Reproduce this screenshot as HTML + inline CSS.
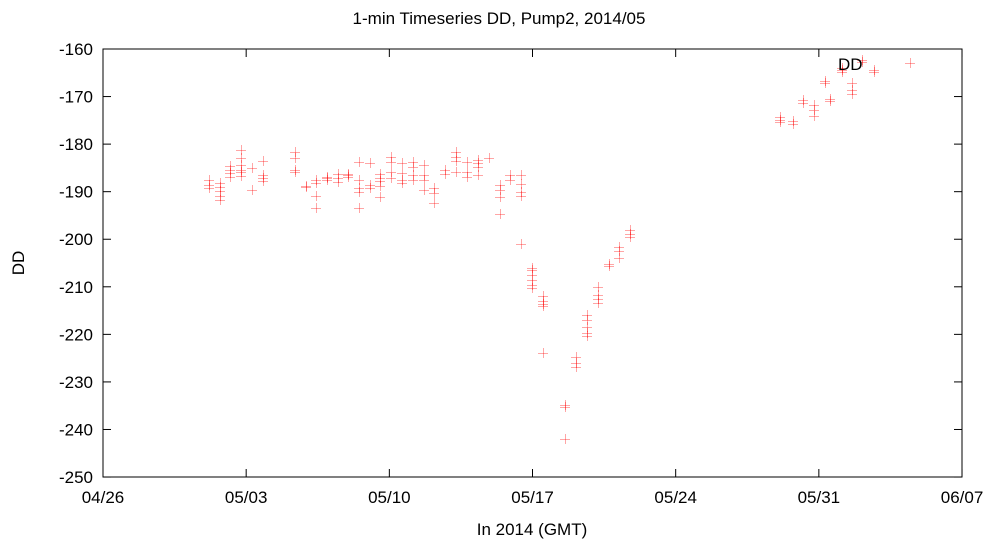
<!DOCTYPE html>
<html><head><meta charset="utf-8"><style>
body{margin:0;background:#fff}
svg text{font-family:"Liberation Sans",sans-serif;font-size:17px;fill:#000}
</style></head><body>
<svg id="s" width="998" height="552" xmlns="http://www.w3.org/2000/svg">
<rect x="103" y="49" width="859" height="428" fill="none" stroke="#000" stroke-width="1"/>
<g id="ax"></g>
<g id="pts" stroke="#ff0000" stroke-opacity="0.35" stroke-width="1"></g>
<text x="499" y="24" text-anchor="middle">1-min Timeseries DD, Pump2, 2014/05</text>
<text x="532" y="535" text-anchor="middle">In 2014 (GMT)</text>
<text x="24" y="263" text-anchor="middle" transform="rotate(-90 24 263)">DD</text>
<text x="838" y="70">DD</text>
</svg>
<script>
var ax=document.getElementById('ax'),h='';
for(var i=0;i<=9;i++){var y=49+i*47.56;h+='<line x1="103" x2="111" y1="'+y+'" y2="'+y+'" stroke="#000"/><line x1="954" x2="962" y1="'+y+'" y2="'+y+'" stroke="#000"/><text x="93" y="'+(y+6)+'" text-anchor="end">'+(-160-10*i)+'</text>';}
var xl=['04/26','05/03','05/10','05/17','05/24','05/31','06/07'];
for(var i=0;i<7;i++){var x=103+i*143.17;h+='<line x1="'+x+'" x2="'+x+'" y1="477" y2="469" stroke="#000"/><line x1="'+x+'" x2="'+x+'" y1="49" y2="57" stroke="#000"/><text x="'+x+'" y="503" text-anchor="middle">'+xl[i]+'</text>';}
ax.innerHTML=h;
var d=[[209,[180,185,188]],[220,[183,187,191,196,200]],[230,[166,170,173,177]],[241,[150,158,165,170,172,176]],[252,[168,190]],[263,[161,175,178,181]],[295,[152,158,170,172]],[306,[186,187]],[316,[180,183,196,208]],[327,[177,180,178]],[338,[174,178,182]],[348,[175,177,174]],[359,[162,180,188,192,208]],[370,[163,188,185]],[380,[174,178,181,186,197]],[391,[157,162,172,178]],[402,[163,173,180,183]],[413,[162,167,175,180]],[424,[165,175,180,190]],[434,[188,193,203]],[445,[170,174]],[456,[152,157,161,172]],[467,[162,172,177]],[478,[160,163,167,175]],[489,[158]],[500,[185,190,197,214]],[510,[175,180]],[521,[175,184,192,196,244]],[532,[268,270,275,280,285,288]],[543,[296,301,304,306,353]],[565,[405,407,439]],[576,[357,363,367]],[587,[315,320,327,333,336]],[598,[287,295,299,303]],[609,[266,264]],[619,[247,251,258]],[630,[230,234,237]],[780,[117,120,122]],[793,[121,124]],[803,[100,103]],[814,[105,110,116]],[825,[81,83]],[830,[99,101]],[842,[68,70,72]],[852,[83,90,94]],[862,[60,62]],[874,[70,72]],[910,[63]]];
var p='';
d.forEach(function(c){c[1].forEach(function(y){var x=c[0];p+='<line x1="'+(x-5)+'" x2="'+(x+5)+'" y1="'+(y+.5)+'" y2="'+(y+.5)+'"/><line x1="'+(x+.5)+'" x2="'+(x+.5)+'" y1="'+(y-5)+'" y2="'+(y+5)+'"/>';});});
document.getElementById('pts').innerHTML=p;
</script>
</body></html>
